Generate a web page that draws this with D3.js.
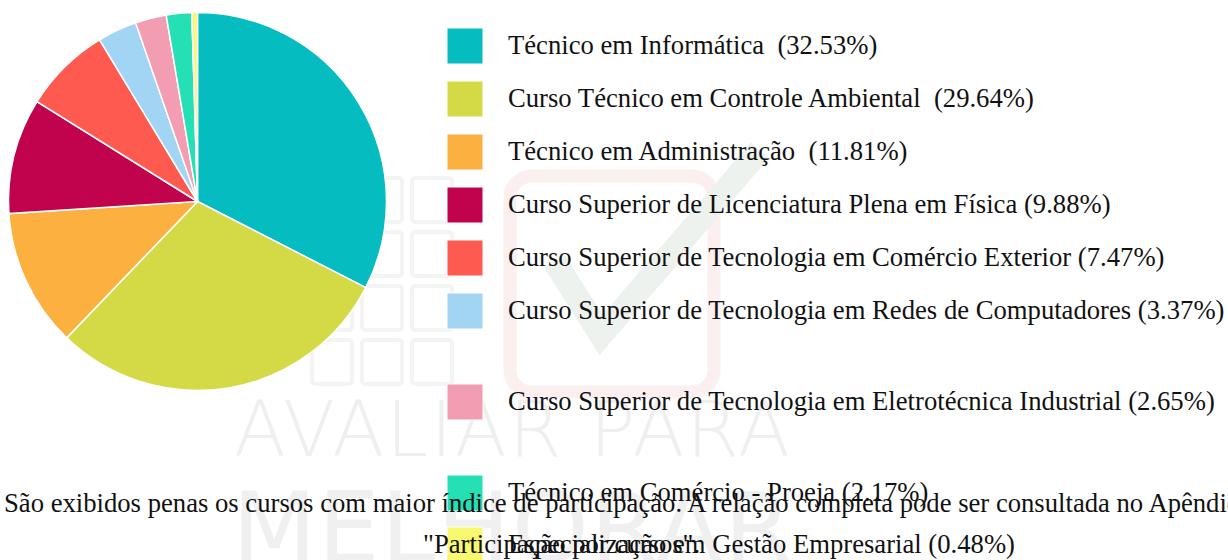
<!DOCTYPE html>
<html>
<head>
<meta charset="utf-8">
<script src="https://d3js.org/d3.v7.min.js"></script>
<style>
  body { margin: 0; background: #fff; overflow: hidden; }
  svg { display: block; }
</style>
</head>
<body>
<script>
// chart data
const courses = [
    "Técnico em Informática",
    "Curso Técnico em Controle Ambiental",
    "Técnico em Administração",
    "Curso Superior de Licenciatura Plena em Física",
    "Curso Superior de Tecnologia em Comércio Exterior",
    "Curso Superior de Tecnologia em Redes de Computadores",
    "Curso Superior de Tecnologia em Eletrotécnica Industrial",
    "Técnico em Comércio - Proeja",
    "Especialização em Gestão Empresarial"
];
const shares = [32.53, 29.64, 11.81, 9.88, 7.47, 3.37, 2.65, 2.17, 0.48];
const labelGap = ["\u00a0\u00a0", "\u00a0\u00a0", "\u00a0\u00a0", " ", " ", " ", " ", " ", " "];
const colors = ["#05bcc1", "#d4da46", "#fbb040", "#c1024c", "#ff5a50",
                "#a2d4f3", "#f39db3", "#26e0b5", "#f9f871"];
const noteLines = [
    "São exibidos penas os cursos com maior índice de participação. A relação completa pode ser consultada no Apêndice",
    "\"Participação por cursos\"."
];

const width = 1228, height = 560;
const serif = "'Liberation Serif', 'Times New Roman', 'DejaVu Serif', serif";

const svg = d3.select("body").append("svg")
    .attr("width", width)
    .attr("height", height);

///////////////////
/// Watermark   ///
///////////////////

const wm = svg.append("g").attr("class", "watermark");

// grid of light squares
for (let r = 0; r < 4; r++) {
    for (let c = 0; c < 3; c++) {
        wm.append("rect")
            .attr("x", 312 + c * 50)
            .attr("y", 178 + r * 54)
            .attr("width", 40)
            .attr("height", 44)
            .attr("rx", 3)
            .attr("fill", "none")
            .attr("stroke", "#f3f5f3")
            .attr("stroke-width", 4);
    }
}

wm.append("rect")
    .attr("x", 510)
    .attr("y", 176)
    .attr("width", 204)
    .attr("height", 216)
    .attr("rx", 22)
    .attr("fill", "none")
    .attr("stroke", "#fcefef")
    .attr("stroke-width", 13);

wm.append("path")
    .attr("d", "M555,262 L601,335 L760,150")
    .attr("fill", "none")
    .attr("stroke", "#edf2ee")
    .attr("stroke-width", 24);

wm.append("text")
    .attr("x", 234)
    .attr("y", 456)
    .attr("textLength", 556)
    .attr("font-family", "'DejaVu Sans'")
    .attr("font-size", 76)
    .attr("font-weight", 300)
    .attr("fill", "#efefef")
    .text("AVALIAR PARA");

wm.append("text")
    .attr("x", 232)
    .attr("y", 562)
    .attr("textLength", 560)
    .attr("font-family", "'DejaVu Sans'")
    .attr("font-size", 98)
    .attr("fill", "#f0f0f0")
    .text("MELHORAR");

///////////
/// Pie ///
///////////

const radius = 189;
const pie = d3.pie().sort(null).value(d => d);
const arc = d3.arc().innerRadius(0).outerRadius(radius);

svg.append("g")
    .attr("transform", "translate(197.5,201.5)")
    .selectAll("path")
    .data(pie(shares))
    .enter()
    .append("path")
    .attr("d", arc)
    .attr("fill", (d, i) => colors[i])
    .attr("stroke", "#fff")
    .attr("stroke-width", 1.5);

//////////////
/// Legend ///
//////////////

// rows are not evenly spaced in the original (wrapped layout)
const rowStep = 53;
const extraGap = [0, 0, 0, 0, 0, 0, 38, 76, 75];

const legend = svg.append("g")
    .selectAll("g")
    .data(courses)
    .enter()
    .append("g")
    .attr("transform", (d, i) => "translate(447," + (28 + i * rowStep + extraGap[i]) + ")");

legend.append("rect")
    .attr("width", 36)
    .attr("height", 36)
    .attr("fill", (d, i) => colors[i])
    .attr("stroke", "#fff")
    .attr("stroke-width", 1);

legend.append("text")
    .attr("x", 61)
    .attr("y", 26)
    .attr("font-family", serif)
    .attr("font-size", 26.67)
    .attr("fill", "#111")
    .text((d, i) => d + labelGap[i] + "(" + shares[i].toFixed(2) + "%)");

////////////
/// Note ///
////////////

svg.append("text")
    .attr("x", 4)
    .attr("y", 512)
    .attr("font-family", serif)
    .attr("font-size", 26.67)
    .attr("fill", "#111")
    .text(noteLines[0]);

svg.append("text")
    .attr("x", 423)
    .attr("y", 553)
    .attr("font-family", serif)
    .attr("font-size", 26.67)
    .attr("fill", "#111")
    .text(noteLines[1]);
</script>
</body>
</html>
